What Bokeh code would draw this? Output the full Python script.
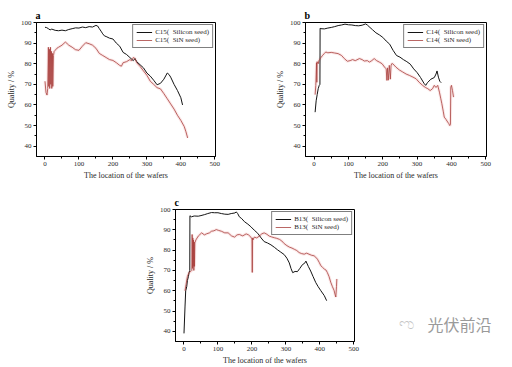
from bokeh.plotting import figure
from bokeh.layouts import row, column
from bokeh.models import Spacer, Range1d, Legend, LegendItem, Label, FixedTicker
from bokeh.embed import file_html
from bokeh.resources import INLINE

# ---------------- data ----------------
a_si_x = [0, 5, 10, 15, 20, 30, 40, 50, 60, 70, 80, 90, 100, 110, 120, 130, 140, 150, 155, 160, 165, 170, 175,
          180, 190, 200, 210, 220, 230, 240, 250, 260, 265, 270, 280, 290, 300, 310, 320, 330, 340, 350, 360,
          365, 370, 380, 390, 400, 405]
a_si_y = [97.7, 97.5, 97, 96.4, 96.8, 96.2, 96, 96.3, 96, 96.6, 97, 97.4, 97.3, 97.8, 97.5, 98, 97.8, 98.6, 98.3,
          97, 95.8, 94.5, 93.5, 93.2, 92.4, 92, 90, 88.5, 85.5, 84.5, 83, 81.5, 82.5, 81, 79.5, 78, 75.5, 74, 72,
          69.8, 70.5, 72.5, 75.5, 74.8, 73.5, 70, 67, 63.5, 60]
a_sin_x = [0, 3, 6, 8, 10, 11, 13, 14, 16, 17, 19, 20, 22, 23, 25, 27, 30, 35, 40, 50, 60, 65, 70, 80, 90, 100,
           110, 120, 130, 140, 150, 160, 165, 170, 180, 190, 200, 210, 220, 225, 230, 240, 250, 255, 260, 265,
           270, 280, 290, 300, 310, 320, 330, 340, 350, 360, 370, 380, 390, 400, 410, 415, 420]
a_sin_y = [71.5, 66, 64.8, 68, 88, 69, 87, 68, 88, 70, 86, 68, 85, 69, 84, 86, 86.5, 87.5, 88, 89, 90.5, 89.8, 89,
           88, 86.8, 86.5, 88.5, 90.2, 89.7, 89, 87.5, 85, 84.5, 84, 83, 82, 81.6, 80.5, 79.2, 78.8, 80.5, 81, 82,
           81.5, 83, 82.5, 80.5, 78.7, 76.5, 74.4, 71.5, 70, 68.4, 67.8, 65.5, 63, 60.5, 58, 55, 52.5, 49.5, 47, 44]

b_si_x = [3, 6, 9, 12, 15, 17, 17.5, 20, 30, 40, 50, 60, 70, 80, 90, 100, 110, 120, 130, 140, 150, 155, 160, 170,
          180, 190, 200, 210, 220, 230, 240, 250, 260, 270, 280, 290, 300, 310, 320, 325, 330, 340, 350, 355, 358,
          362, 366, 370]
b_si_y = [56.5, 62, 65, 67.9, 69.5, 70, 97.2, 97, 96.9, 97.3, 97.6, 98, 98.5, 98.8, 99.2, 98.9, 98.8, 98.5, 98.4,
          98.7, 99.3, 98.8, 98, 96.5, 95, 94, 92.8, 91, 89.5, 86.5, 84, 83.2, 82, 81, 79.8, 77.5, 75.7, 73.3, 70.5,
          69.5, 70.8, 72.5, 73.3, 75, 76.5, 73.5, 71.5, 70.8]
b_sin_x = [3, 5, 7, 8, 9, 10, 12, 14, 16, 18, 20, 25, 30, 34, 40, 50, 60, 70, 80, 88, 97, 105, 112, 120, 132, 140,
           146, 155, 161, 168, 175, 182, 190, 198, 205, 210, 212, 214, 216, 219, 222, 224, 226, 229, 238, 248, 258,
           268, 278, 288, 297, 306, 316, 324, 331, 338, 345, 350, 355, 360, 365, 369, 372, 376, 379, 384, 389, 392,
           395, 397, 398, 400, 403, 406]
b_sin_y = [65, 69.5, 80.5, 71, 81, 80.8, 80, 81.5, 82, 82.5, 83, 84.1, 85, 85.7, 85.3, 85.5, 85.2, 84.9, 84, 82.5,
           81.2, 81.5, 82, 81.5, 82.5, 82, 81.3, 81.5, 80.8, 81.5, 82.5, 81.5, 80.8, 80, 78.4, 77.5, 71.9, 78, 72,
           79.2, 72.5, 79, 80, 80, 78.4, 77, 76, 75, 74.3, 73.5, 72.7, 71, 69.5, 68.5, 67.9, 67, 67.9, 69.5, 68.5,
           69.5, 66.2, 63, 60.6, 57, 54.1, 53, 51.7, 51, 50, 50.5, 68.6, 69.5, 67, 63.8]

c_si_x = [0, 3, 5, 8, 10, 13, 15, 17, 17.5, 22, 30, 42, 50, 61, 70, 81, 90, 100, 110, 120, 130, 139, 150, 154,
          158, 163, 170, 178, 188, 197, 207, 217, 227, 236, 246, 256, 266, 275, 285, 295, 303, 310, 315, 320, 327,
          334, 341, 349, 355, 359, 366, 373, 380, 388, 395, 403, 413, 420]
c_si_y = [39, 52, 60, 62, 65, 67, 69, 70, 96.9, 96.4, 96.8, 96.7, 97, 97.5, 98, 98.5, 98.4, 98.4, 98, 97.7, 97.6,
          98, 98.3, 98.8, 98, 96.4, 95.5, 94, 92.8, 91.5, 89.8, 88.3, 86, 84.2, 83.5, 82.6, 81.4, 80.2, 79, 77.8,
          76, 73.7, 71, 68.9, 69.5, 69.4, 71, 72.9, 73.5, 74.6, 72, 69.7, 67, 64, 62, 60, 57.6, 55.1]
c_sin_x = [3, 6, 10, 15, 20, 23, 24, 25, 26, 27, 28, 29, 30, 31, 32, 35, 42, 52, 60, 66, 75, 81, 88, 95, 102, 110,
           120, 130, 140, 149, 156, 163, 173, 183, 190, 197, 200, 201, 202, 203, 207, 214, 222, 229, 236, 244, 251,
           258, 266, 273, 281, 288, 295, 303, 310, 318, 325, 332, 339, 346, 354, 361, 368, 375, 383, 388, 393, 398,
           403, 408, 413, 418, 422, 427, 432, 437, 442, 445, 447, 449, 450]
c_sin_y = [60, 63, 67, 69, 69.5, 70, 87.7, 71, 86, 72, 85, 70, 84, 72, 83.6, 85, 86.9, 88.5, 87.5, 88, 88.5, 89.3,
           89.5, 90.1, 89.7, 89.3, 88.5, 88.5, 87, 86.4, 87.5, 87.7, 87, 88, 87.5, 86.4, 85.5, 69, 86, 85, 86.4, 86,
           86.9, 88, 88.5, 87.8, 86.9, 86.5, 86.1, 85.8, 85.3, 84.5, 83.2, 82.2, 81.5, 81, 80.4, 79.8, 78.8, 78.3,
           78, 78.5, 78, 77.5, 77.2, 76.5, 75.5, 74, 72.3, 71.5, 70.7, 70.2, 69, 67, 64.2, 62, 60.1, 58, 56.9, 62,
           65.8]

x_ticks = [0, 100, 200, 300, 400, 500]
x_minor = [50, 150, 250, 350, 450]
y_ticks = [40, 50, 60, 70, 80, 90, 100]
y_minor = [45, 55, 65, 75, 85, 95]

SERIF = "Liberation Serif"
RED = "#a8403d"
GLOW = "#f3b4b4"
BLACK = "#141414"
TXT = "#2a2a2a"


def make_panel(letter, name, sx, sy, nx, ny, width, height, bl, br, bt, bb):
    p = figure(width=width, height=height, output_backend="svg", toolbar_location=None,
               x_range=Range1d(-25, 502), y_range=Range1d(35, 100),
               min_border_left=bl, min_border_right=br, min_border_top=bt, min_border_bottom=bb)
    p.title.text = letter
    p.title.text_font = SERIF
    p.title.text_font_size = "10px"
    p.title.text_font_style = "bold"
    p.title.text_color = "black"
    p.title.standoff = 4
    p.title.offset = -1
    p.grid.visible = False
    p.outline_line_color = "black"
    p.outline_line_width = 1
    p.background_fill_color = "white"
    p.border_fill_color = "white"

    p.xaxis.ticker = FixedTicker(ticks=x_ticks, minor_ticks=x_minor)
    p.yaxis.ticker = FixedTicker(ticks=y_ticks, minor_ticks=y_minor)
    p.xaxis.axis_label = "The location of the wafers"
    p.yaxis.axis_label = "Quality / %"
    for ax in (p.xaxis, p.yaxis):
        ax.axis_label_text_font = SERIF
        ax.axis_label_text_font_size = "8px"
        ax.axis_label_text_font_style = "normal"
        ax.axis_label_text_color = TXT
        ax.axis_label_standoff = 2
        ax.major_label_text_font = SERIF
        ax.major_label_text_font_size = "7px"
        ax.major_label_text_color = TXT
        ax.major_label_standoff = 2
        ax.major_tick_in = 0
        ax.major_tick_out = 3
        ax.minor_tick_in = 0
        ax.minor_tick_out = 2
        ax.axis_line_color = "black"
        ax.major_tick_line_color = "black"
        ax.minor_tick_line_color = "black"

    p.line(nx, ny, line_color=GLOW, line_width=3, line_alpha=0.3)
    r_si = p.line(sx, sy, line_color=BLACK, line_width=1)
    r_sin = p.line(nx, ny, line_color=RED, line_width=0.8)

    leg = Legend(items=[LegendItem(label=name + "(  Silicon seed)", renderers=[r_si]),
                        LegendItem(label=name + "(  SiN seed)", renderers=[r_sin])],
                 location="top_right")
    leg.label_text_font = SERIF
    leg.label_text_font_size = "7px"
    leg.label_text_color = TXT
    leg.label_height = 6
    leg.label_standoff = 3
    leg.glyph_width = 16
    leg.glyph_height = 6
    leg.spacing = 0
    leg.padding = 3
    leg.margin = 2
    leg.border_line_color = "black"
    leg.border_line_width = 1
    leg.background_fill_color = "white"
    leg.background_fill_alpha = 1
    p.add_layout(leg)
    return p


# page has no margin: panel a frame at x 36..215, y 22..156 ; b frame x 305..486 ; c frame x 175..354, y 209..343
pa = make_panel("a", "C15", a_si_x, a_si_y, a_sin_x, a_sin_y, 269, 187, 36, 54, 22, 31)
pb = make_panel("b", "C14", b_si_x, b_si_y, b_sin_x, b_sin_y, 240, 187, 36, 23, 22, 31)
pc = make_panel("c", "B13", c_si_x, c_si_y, c_sin_x, c_sin_y, 225, 180, 36, 10, 22, 24)

pw = figure(width=148, height=180, output_backend="svg", toolbar_location=None,
            x_range=Range1d(0, 148), y_range=Range1d(180, 0),
            x_axis_location=None, y_axis_location=None, min_border=0)
pw.grid.visible = False
pw.outline_line_color = None
pw.add_layout(Label(x=63, y=156, text="光伏前沿", text_font="Noto Sans CJK SC", text_font_size="16px",
                    text_color="#9a9a9a", text_baseline="middle"))
pw.add_layout(Label(x=34, y=155, text="\u0c8c", text_font="Noto Sans", text_font_size="16px",
                    text_color="#c4c4c4", text_baseline="middle"))

layout = column(row(pa, pb), row(Spacer(width=139, height=180), pc, pw))

open("out.html", "w").write(file_html(layout, INLINE))
